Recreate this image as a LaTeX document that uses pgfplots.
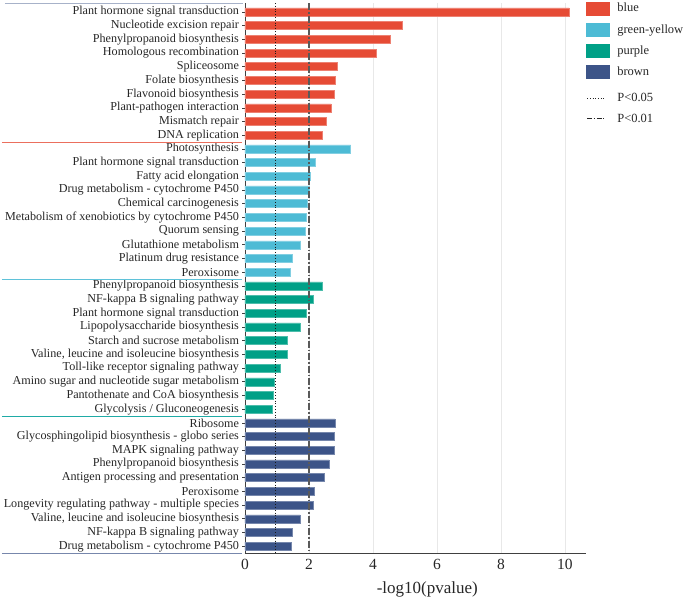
\documentclass[border=0pt]{standalone}
\usepackage{pgfplots}
\pgfplotsset{compat=1.18}
\usepackage{fontspec}
\setmainfont{Liberation Serif}
\definecolor{cred}{HTML}{E64B35}
\definecolor{cblue}{HTML}{4DBBD5}
\definecolor{cteal}{HTML}{00A087}
\definecolor{cnavy}{HTML}{3C5488}
\begin{document}
\begin{tikzpicture}
\path[use as bounding box] (-245pt,-50pt) rectangle (440pt,553pt);
\begin{axis}[
  at={(0,0)}, anchor=south west,
  scale only axis, width=340.7pt, height=550pt,
  xmin=0, xmax=10.65, ymin=0.35, ymax=40.5, y dir=reverse,
  axis x line*=bottom, axis y line*=left,
  axis line style={black!75, line width=0.8pt},
  xtick={0,2,4,6,8,10}, xmajorgrids, grid style={black!9, line width=0.8pt},
  ytick={1,...,40},
  yticklabels={Plant hormone signal transduction, Nucleotide excision repair, Phenylpropanoid biosynthesis, Homologous recombination, Spliceosome, Folate biosynthesis, Flavonoid biosynthesis, Plant-pathogen interaction, Mismatch repair, DNA replication,
  Photosynthesis, Plant hormone signal transduction, Fatty acid elongation, Drug metabolism - cytochrome P450, Chemical carcinogenesis, Metabolism of xenobiotics by cytochrome P450, Quorum sensing, Glutathione metabolism, Platinum drug resistance, Peroxisome,
  Phenylpropanoid biosynthesis, NF-kappa B signaling pathway, Plant hormone signal transduction, Lipopolysaccharide biosynthesis, Starch and sucrose metabolism, {Valine, leucine and isoleucine biosynthesis}, Toll-like receptor signaling pathway, Amino sugar and nucleotide sugar metabolism, Pantothenate and CoA biosynthesis, Glycolysis / Gluconeogenesis,
  Ribosome, Glycosphingolipid biosynthesis - globo series, MAPK signaling pathway, Phenylpropanoid biosynthesis, Antigen processing and presentation, Peroxisome, Longevity regulating pathway - multiple species, {Valine, leucine and isoleucine biosynthesis}, NF-kappa B signaling pathway, Drug metabolism - cytochrome P450},
  y tick label style={font=\fontsize{12.15}{12.15}\selectfont, text=black!85},
  x tick label style={font=\fontsize{15.5}{15.5}\selectfont, text=black!85},
  xlabel={-log10(pvalue)},
  xlabel style={font=\fontsize{17}{17}\selectfont, text=black!85, xshift=12pt, yshift=-5pt},
  major tick length=2.5pt, tick align=outside,
  xtick style={draw=none}, ytick style={black!75, line width=0.6pt},
  /pgf/number format/assume math mode=true,
  xbar, bar width=8pt, bar shift=0pt,
  clip=false,
  legend style={at={(1,1)}, anchor=north west, xshift=0pt, yshift=2pt,
    draw=none, fill=none, inner sep=0pt, row sep=7pt,
    font=\fontsize{12.5}{12.5}\selectfont, text=black!85},
  legend cell align=left,
]
\addplot[forget plot, fill=cred, draw=cred!70, line width=0.5pt] coordinates {
(10.13,1) (4.93,2) (4.54,3) (4.09,4) (2.875,5) (2.81,6) (2.78,7) (2.69,8) (2.55,9) (2.40,10)};
\addplot[forget plot, fill=cblue, draw=cblue!70, line width=0.5pt] coordinates {
(3.30,11) (2.19,12) (2.05,13) (2.00,14) (1.95,15) (1.91,16) (1.875,17) (1.74,18) (1.49,19) (1.41,20)};
\addplot[forget plot, fill=cteal, draw=cteal!70, line width=0.5pt] coordinates {
(2.42,21) (2.14,22) (1.90,23) (1.72,24) (1.32,25) (1.32,26) (1.10,27) (0.91,28) (0.875,29) (0.86,30)};
\addplot[forget plot, fill=cnavy, draw=cnavy!70, line width=0.5pt] coordinates {
(2.81,31) (2.79,32) (2.79,33) (2.63,34) (2.47,35) (2.18,36) (2.14,37) (1.72,38) (1.49,39) (1.45,40)};
\addplot[forget plot, sharp plot, black!90, dotted, line width=0.8pt] coordinates {(0.95,0.35) (0.95,40.5)};
\addplot[forget plot, sharp plot, black!65, line width=1.3pt, dash pattern=on 7pt off 2pt on 1.5pt off 2pt] coordinates {(2,0.35) (2,40.5)};
\draw[cnavy!45, line width=0.9pt] ([xshift=-240pt]axis cs:0,0.35) -- ([xshift=-2pt]axis cs:0,0.35);
\draw[cred!80, line width=0.9pt] ([xshift=-243pt]axis cs:0,10.5) -- ([xshift=-3pt]axis cs:0,10.5);
\draw[cblue!90, line width=0.9pt] ([xshift=-243pt]axis cs:0,20.5) -- ([xshift=-3pt]axis cs:0,20.5);
\draw[cteal!60!cblue, line width=0.9pt] ([xshift=-243pt]axis cs:0,30.5) -- ([xshift=-3pt]axis cs:0,30.5);
\draw[cnavy!70, line width=0.9pt] ([xshift=-243pt]axis cs:0,40.5) -- ([xshift=-3pt]axis cs:0,40.5);
\addlegendimage{legend image code/.code={\fill[cred] (0pt,-6.5pt) rectangle (23pt,6.5pt); \path (29pt,0pt);}}
\addlegendentry{blue}
\addlegendimage{legend image code/.code={\fill[cblue] (0pt,-6.5pt) rectangle (23pt,6.5pt); \path (29pt,0pt);}}
\addlegendentry{green-yellow}
\addlegendimage{legend image code/.code={\fill[cteal] (0pt,-6.5pt) rectangle (23pt,6.5pt); \path (29pt,0pt);}}
\addlegendentry{purple}
\addlegendimage{legend image code/.code={\fill[cnavy] (0pt,-6.5pt) rectangle (23pt,6.5pt); \path (29pt,0pt);}}
\addlegendentry{brown}
\addlegendimage{legend image code/.code={\path (0pt,12pt); \draw[black!85, dotted, line width=0.7pt] (1pt,0pt) -- (18pt,0pt);}}
\addlegendentry{P<0.05}
\addlegendimage{legend image code/.code={\draw[black!85, line width=0.9pt, dash pattern=on 5pt off 1.5pt on 1.5pt off 1.5pt] (1pt,0pt) -- (18pt,0pt);}}
\addlegendentry{P<0.01}
\end{axis}
\end{tikzpicture}
\end{document}
